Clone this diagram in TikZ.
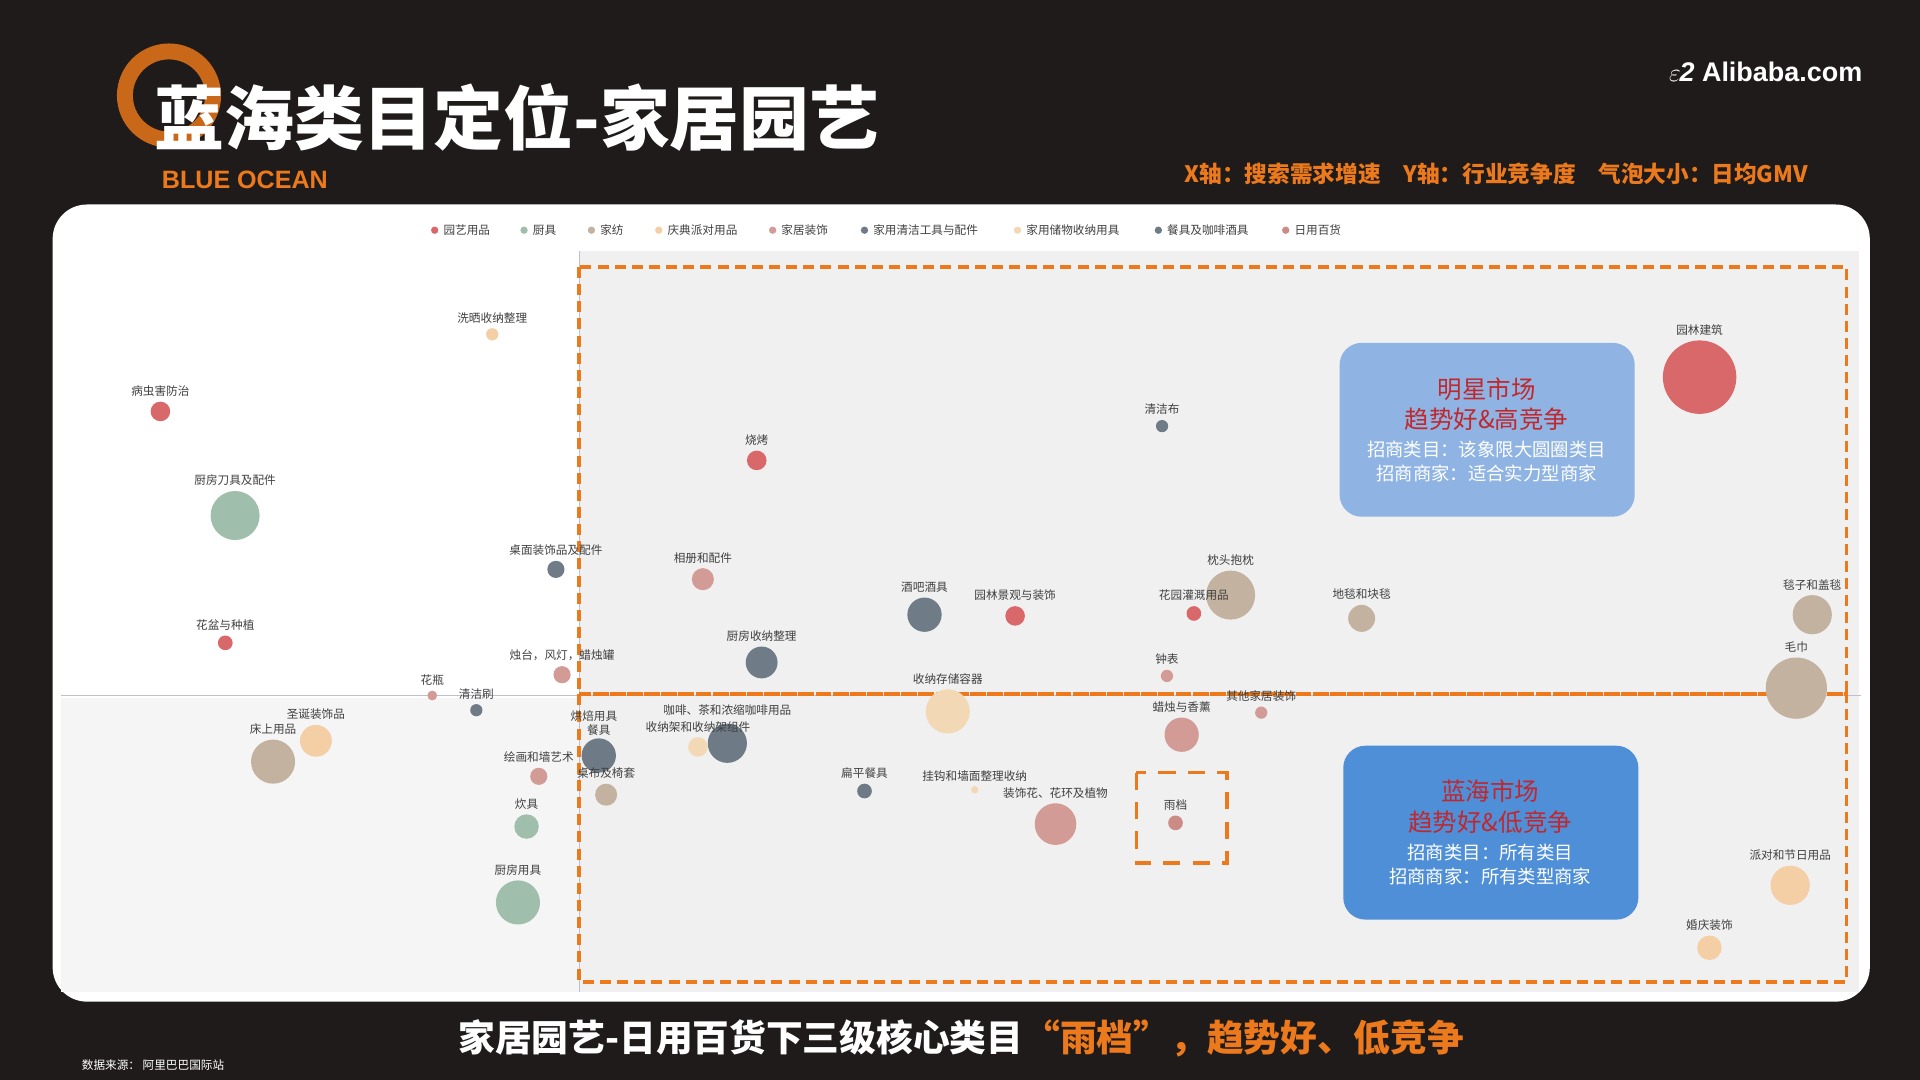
\documentclass[tikz,border=0pt]{standalone}
\usepackage{fontspec}
\setmainfont{Noto Sans CJK SC}
\newfontfamily\cjkb{Noto Sans CJK SC}[FakeBold=3]
\newfontfamily\lat{Liberation Sans}
\definecolor{bgd}{HTML}{1F1B1A}
\definecolor{ora}{HTML}{EC7A1C}
\definecolor{cA}{HTML}{D9686B}
\definecolor{cB}{HTML}{9FBFAC}
\definecolor{cC}{HTML}{C4B2A0}
\definecolor{cD}{HTML}{F4CFA5}
\definecolor{cE}{HTML}{D39B95}
\definecolor{cF}{HTML}{6F7C87}
\definecolor{cG}{HTML}{F3D8B5}
\definecolor{cH}{HTML}{6E7A85}
\definecolor{cI}{HTML}{CD8B85}
\definecolor{boxA}{HTML}{8FB4E3}
\definecolor{boxB}{HTML}{4F8FD8}
\definecolor{tred}{HTML}{C0282E}
\tikzset{
 lbl/.style={font=\fontsize{9.5}{10}\selectfont, text=black!75, inner sep=0pt},
 leg/.style={font=\fontsize{9.5}{10}\selectfont, text=black!75, inner sep=0pt, anchor=west},
 odash/.style={draw=ora, line width=3pt, dash pattern=on 9pt off 5pt},
 mbox/.style={rounded corners=18pt, align=center, text=white, inner sep=0pt}
}
\newcommand{\bub}[6]{% name x y r color label
 \fill[#5] (#2,#3) circle (#4);
 \node[lbl, above=#4+4pt] (#1) at (#2,#3) {#6};}
\begin{document}
\begin{tikzpicture}[x=1pt,y=-1pt]
\fill[bgd] (0,0) rectangle (1568,882);
\useasboundingbox (0,0) rectangle (1568,882);
% panel
\fill[white, rounded corners=28pt] (43,167) rectangle (1527,818);
\fill[black!6] (473,205) rectangle (1518,810);
\fill[black!4] (50,570) rectangle (473,810);
\draw[blue!30!black!25, line width=1pt] (50,568) -- (1520,568);
\draw[blue!30!black!25, line width=1pt] (473,205) -- (473,810);
% legend
\foreach \x/\c/\t in {352/cA/园艺用品, 425/cB/厨具, 480/cC/家纺, 535/cD/庆典派对用品, 628/cE/家居装饰, 703/cF/家用清洁工具与配件, 828/cG/家用储物收纳用具, 943/cH/餐具及咖啡酒具, 1047/cI/日用百货}{
 \fill[\c] (\x+3,188) circle (3);
 \node[leg] at (\x+10,188) {\t};}
% dashed regions
\draw[odash] (473,218) rectangle (1508,567);
\draw[odash] (473,567) rectangle (1508,802);
\draw[odash, dash pattern=on 14pt off 10pt] (928,631) rectangle (1002,705);
% bubbles
\bub{b1}{402}{273}{5}{cD}{洗晒收纳整理}
\bub{b2}{131}{336}{8}{cA}{病虫害防治}
\bub{b3}{192}{421}{20}{cB}{厨房刀具及配件}
\bub{b4}{454}{465}{7}{cF}{桌面装饰品及配件}
\bub{b5}{184}{525}{6}{cA}{花盆与种植}
\bub{b6}{353}{568}{4}{cE}{花瓶}
\bub{b7}{389}{580}{5}{cF}{清洁刷}
\bub{b8}{459}{551}{7}{cE}{烛台，风灯，蜡烛罐}
\bub{b9}{258}{605}{13}{cD}{圣诞装饰品}
\bub{b10}{223}{622}{18}{cC}{床上用品}
\bub{b11}{440}{634}{7}{cE}{绘画和墙艺术}
\bub{b12}{430}{675}{10}{cB}{炊具}
\bub{b13}{423}{737}{18}{cB}{厨房用具}
\bub{b14}{618}{376}{8}{cA}{烧烤}
\bub{b15}{574}{473}{9}{cE}{相册和配件}
\bub{b16}{622}{541}{13}{cF}{厨房收纳整理}
\bub{b17}{755}{502}{14}{cF}{酒吧酒具}
\bub{b18}{829}{503}{8}{cA}{园林景观与装饰}
\bub{b19}{949}{348}{5}{cF}{清洁布}
\bub{b20}{1005}{486}{20}{cC}{枕头抱枕}
\bub{b21}{975}{501}{6}{cA}{花园灌溉用品}
\bub{b22}{953}{552}{5}{cE}{钟表}
\bub{b23}{1112}{505}{11}{cC}{地毯和块毯}
\bub{b24}{1388}{308}{30}{cA}{园林建筑}
\bub{b25}{1480}{502}{16}{cC}{毯子和盖毯}
\bub{b26}{1467}{562}{25}{cC}{毛巾}
\bub{b27}{774}{581}{18}{cG}{收纳存储容器}
\fill[cH] (594,607) circle (16);
\node[lbl] (b28) at (594,580) {咖啡、茶和浓缩咖啡用品};
\bub{b29}{570}{610}{8}{cG}{收纳架和收纳架组件}
\fill[cH] (489,617) circle (14);
\node[lbl] (b30) at (485,585) {烘焙用具};
\node[lbl] (b31) at (489,596) {餐具};
\bub{b32}{495}{649}{9}{cC}{桌布及椅套}
\bub{b33}{706}{646}{6}{cH}{扁平餐具}
\bub{b34}{796}{645}{3}{cG}{挂钩和墙面整理收纳}
\bub{b35}{862}{673}{17}{cE}{装饰花、花环及植物}
\bub{b36}{965}{600}{14}{cE}{蜡烛与香薰}
\bub{b37}{1030}{582}{5}{cE}{其他家居装饰}
\bub{b38}{960}{672}{6}{cI}{雨档}
\bub{b39}{1462}{723}{16}{cD}{派对和节日用品}
\bub{b40}{1396}{774}{10}{cD}{婚庆装饰}
% market boxes
\node[mbox, fill=boxA, minimum width=241pt, minimum height=142pt] (star) at (1214.5,351) {};
\node[text=tred, font=\fontsize{20}{25}\selectfont, align=center, inner sep=0pt] (st1) at (1214,330) {明星市场\\趋势好\&高竞争};
\node[text=white, font=\fontsize{15}{19}\selectfont, align=center, inner sep=0pt] (st2) at (1214,377) {招商类目：该象限大圆圈类目\\招商商家：适合实力型商家};
\node[mbox, fill=boxB, minimum width=241pt, minimum height=142pt] (blue) at (1217.5,680) {};
\node[text=tred, font=\fontsize{20}{25}\selectfont, align=center, inner sep=0pt] (bl1) at (1217,659) {蓝海市场\\趋势好\&低竞争};
\node[text=white, font=\fontsize{15}{19}\selectfont, align=center, inner sep=0pt] (bl2) at (1217,706) {招商类目：所有类目\\招商商家：所有类型商家};
% header
\draw[ora!85!black, line width=13pt] (138,78) circle (36);
\node[text=white, font=\bfseries\fontsize{57}{62}\selectfont, anchor=west, inner sep=0pt] (title) at (126,96) {蓝海类目定位-家居园艺};
\node[text=ora, font=\lat\bfseries\fontsize{20.5}{22}\selectfont, inner sep=0pt] (bo) at (200,147) {BLUE OCEAN};
\node[text=white, font=\lat\bfseries\fontsize{22}{24}\selectfont, inner sep=0pt, anchor=east] (ali) at (1521,59) {$\varepsilon$\kern-1pt\textsl{2}\ Alibaba.com};
\node[text=ora, font=\bfseries\fontsize{18.5}{20}\selectfont, inner sep=0pt] (axes) at (1222,142) {X轴：搜索需求增速\quad Y轴：行业竞争度\quad 气泡大小：日均GMV};
% footer
\node[font=\bfseries\fontsize{30}{32}\selectfont, inner sep=0pt] (cap) at (785,848) {\textcolor{white}{家居园艺-日用百货下三级核心类目}\textcolor{ora}{“雨档”，趋势好、低竞争}};
\node[text=white!70, font=\fontsize{9.5}{10}\selectfont, inner sep=0pt] (src) at (125,870) {数据来源：\ 阿里巴巴国际站};
\end{tikzpicture}
\end{document}
